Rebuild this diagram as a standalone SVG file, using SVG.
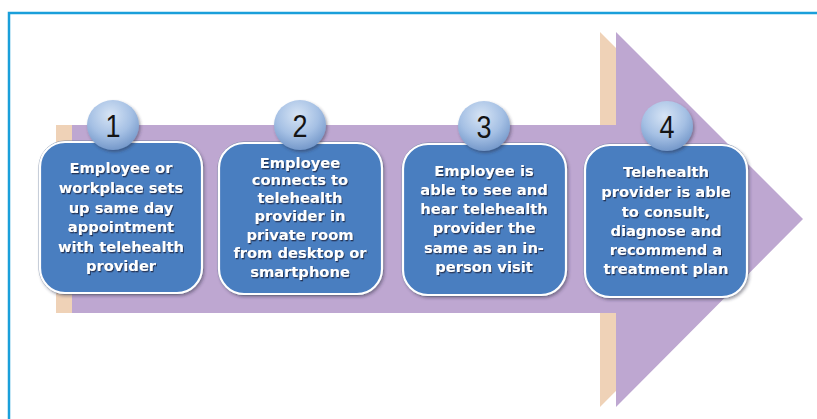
<svg xmlns="http://www.w3.org/2000/svg" width="817" height="419" viewBox="0 0 817 419">
<defs>
<radialGradient id="ball" cx="0.45" cy="0.3" r="0.75">
<stop offset="0" stop-color="#d6e4f5"/>
<stop offset="0.55" stop-color="#a5c0e4"/>
<stop offset="1" stop-color="#6d92c6"/>
</radialGradient>
<filter id="tsh" x="-10%" y="-10%" width="120%" height="130%">
<feDropShadow dx="1" dy="1.3" stdDeviation="0.6" flood-color="#1a2c4a" flood-opacity="0.85"/>
</filter>
<filter id="bsh" x="-20%" y="-20%" width="140%" height="140%">
<feDropShadow dx="1.5" dy="2" stdDeviation="1.5" flood-color="#2a2a40" flood-opacity="0.45"/>
</filter>
</defs>
<style>
.frame{fill:none;stroke:#1a9fda;stroke-width:2.5}
.box{fill:#4a7ec0;stroke:#ffffff;stroke-width:2.2}
.boxline{fill:none;stroke:#6a7fa0;stroke-width:0.8}
.ball{fill:url(#ball)}
.num{font-family:"Liberation Sans",Arial,sans-serif;font-size:32px;fill:#141414;text-anchor:middle}
.lbl{font-family:"DejaVu Sans",Verdana,sans-serif;font-weight:bold;font-size:14.7px;fill:#ffffff;text-anchor:middle}
</style>
<rect x="0" y="0" width="817" height="419" fill="#ffffff"/>
<rect class="frame" x="9" y="13" width="900" height="500"/>
<g id="arrow">
<polygon fill="#efd2b7" points="56,125 600,125 600,32 787,219 600,407 600,313 56,313"/>
<polygon fill="#bea7d1" points="72,125 616,125 616,32 803,219 616,407 616,313 72,313"/>
</g>
<g id="connectors"></g>
<g id="step1">
<rect class="boxline" x="39" y="141" width="164" height="153" rx="26"/>
<rect class="box" x="40" y="142" width="162" height="151" rx="25" filter="url(#bsh)"/>
<ellipse class="ball" cx="113" cy="125" rx="26" ry="25" filter="url(#bsh)"/>
<text class="num" x="113" y="137" textLength="15" lengthAdjust="spacingAndGlyphs">1</text>
<g class="lbl" filter="url(#tsh)">
<text x="121" y="173">Employee or</text>
<text x="121" y="193">workplace sets</text>
<text x="121" y="213">up same day</text>
<text x="121" y="232">appointment</text>
<text x="121" y="252">with telehealth</text>
<text x="121" y="271">provider</text>
</g>
</g>
<g id="step2">
<rect class="boxline" x="218" y="142" width="165" height="153" rx="26"/>
<rect class="box" x="219" y="143" width="163" height="151" rx="25" filter="url(#bsh)"/>
<ellipse class="ball" cx="300" cy="125" rx="26" ry="25" filter="url(#bsh)"/>
<text class="num" x="300" y="137" textLength="15" lengthAdjust="spacingAndGlyphs">2</text>
<g class="lbl" filter="url(#tsh)">
<text x="300" y="168">Employee</text>
<text x="300" y="185">connects to</text>
<text x="300" y="203">telehealth</text>
<text x="300" y="221">provider in</text>
<text x="300" y="240">private room</text>
<text x="300" y="258">from desktop or</text>
<text x="300" y="277">smartphone</text>
</g>
</g>
<g id="step3">
<rect class="boxline" x="402" y="143" width="165" height="153" rx="26"/>
<rect class="box" x="403" y="144" width="163" height="151" rx="25" filter="url(#bsh)"/>
<ellipse class="ball" cx="484" cy="126" rx="26" ry="25" filter="url(#bsh)"/>
<text class="num" x="484" y="138" textLength="15" lengthAdjust="spacingAndGlyphs">3</text>
<g class="lbl" filter="url(#tsh)">
<text x="484" y="176">Employee is</text>
<text x="484" y="195">able to see and</text>
<text x="484" y="214">hear telehealth</text>
<text x="484" y="233">provider the</text>
<text x="484" y="253">same as an in-</text>
<text x="484" y="272">person visit</text>
</g>
</g>
<g id="step4">
<rect class="boxline" x="584" y="144" width="164" height="154" rx="26"/>
<rect class="box" x="585" y="145" width="162" height="152" rx="25" filter="url(#bsh)"/>
<ellipse class="ball" cx="667" cy="126" rx="26" ry="25" filter="url(#bsh)"/>
<text class="num" x="667" y="138" textLength="15" lengthAdjust="spacingAndGlyphs">4</text>
<g class="lbl" filter="url(#tsh)">
<text x="666" y="177">Telehealth</text>
<text x="666" y="197">provider is able</text>
<text x="666" y="217">to consult,</text>
<text x="666" y="236">diagnose and</text>
<text x="666" y="255">recommend a</text>
<text x="666" y="274">treatment plan</text>
</g>
</g>
</svg>
